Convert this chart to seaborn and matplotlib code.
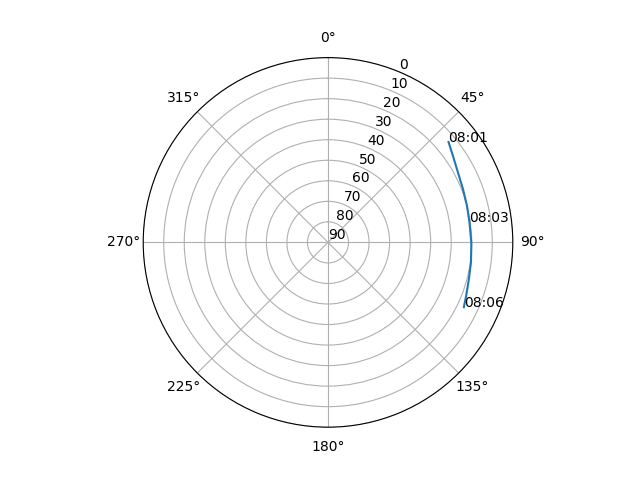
import numpy as np
import pandas as pd
import matplotlib
matplotlib.use("Agg")
import matplotlib.pyplot as plt
import seaborn as sns

# satellite pass track (azimuth deg, elevation deg)
times = ["08:01:00", "08:01:24", "08:01:48", "08:02:12", "08:02:36", "08:03:00",
         "08:03:36", "08:04:12", "08:04:48", "08:05:24", "08:06:00"]
azimuth = [50.2, 55.1, 61.6, 68.3, 75.1, 81.8, 90.1, 97.9, 104.5, 111.0, 115.5]
elevation = [13.6, 15.9, 18.1, 19.3, 20.0, 20.4, 20.2, 19.7, 19.1, 17.9, 16.7]
labelled = ["08:01:00", "08:03:00", "08:06:00"]

df = pd.DataFrame({"time": times, "az": np.radians(azimuth), "el": elevation})

fig = plt.figure(figsize=(6.4, 4.8), dpi=100)
ax = fig.add_subplot(111, projection="polar")
ax.set_theta_zero_location("N")
ax.set_theta_direction(-1)

sns.lineplot(data=df, x="az", y="el", ax=ax, sort=False, color="C0")

for _, row in df[df["time"].isin(labelled)].iterrows():
    ax.text(row["az"], row["el"], row["time"][:5])

ax.set_ylim(90, 0)
ax.set_yticks(range(0, 91, 10))
ax.set_xlabel("")
ax.set_ylabel("")

fig.savefig("out.png")
